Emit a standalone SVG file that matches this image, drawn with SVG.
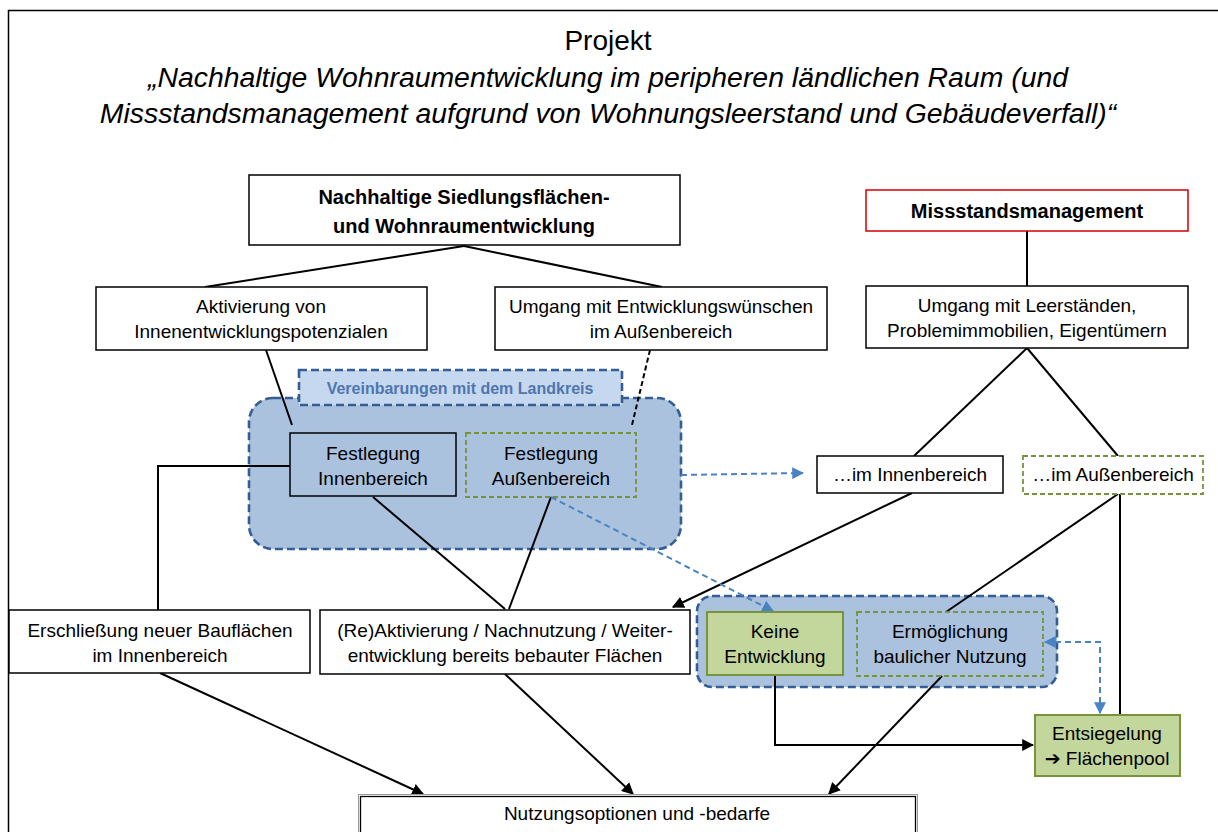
<svg xmlns="http://www.w3.org/2000/svg" width="1218" height="832" viewBox="0 0 1218 832">
<style>
text{font-family:"Liberation Sans",Arial,sans-serif;fill:#000;text-anchor:middle}
.t{font-size:28.4px;font-style:italic}
.b{font-size:20px;font-weight:bold}
.r{font-size:19px}
.box{fill:#fff;stroke:#000;stroke-width:1.5}
.boxn{fill:none;stroke:#000;stroke-width:1.5}
.gd{fill:none;stroke:#77933c;stroke-width:1.8;stroke-dasharray:5 3}
.gf{fill:#c3d69b;stroke:#77933c;stroke-width:2}
.cont{fill:#abc2df;stroke:#355e94;stroke-width:2.6;stroke-dasharray:8 4}
.ln{fill:none;stroke:#000;stroke-width:2}
.bd{fill:none;stroke:#4a83c4;stroke-width:2;stroke-dasharray:6 4}
</style>
<defs>
<marker id="ab" viewBox="0 0 10 10" refX="9" refY="5" markerWidth="6" markerHeight="6" orient="auto" markerUnits="strokeWidth"><path d="M0,0 L10,5 L0,10 Z" fill="#000"/></marker>
<marker id="au" viewBox="0 0 10 10" refX="9" refY="5" markerWidth="6" markerHeight="6" orient="auto" markerUnits="strokeWidth"><path d="M0,0 L10,5 L0,10 Z" fill="#4a83c4"/></marker>
<marker id="aus" viewBox="0 0 10 10" refX="1" refY="5" markerWidth="6" markerHeight="6" orient="auto" markerUnits="strokeWidth"><path d="M10,0 L0,5 L10,10 Z" fill="#4a83c4"/></marker>
</defs>
<rect width="1218" height="832" fill="#fff"/>
<path d="M8.5,832 V10.5 H1218" fill="none" stroke="#000" stroke-width="1.5"/>

<g id="title">
<text x="608" y="50" style="font-size:28px">Projekt</text>
<text class="t" x="608" y="87">„Nachhaltige Wohnraumentwicklung im peripheren ländlichen Raum (und</text>
<text class="t" x="608" y="123">Missstandsmanagement aufgrund von Wohnungsleerstand und Gebäudeverfall)“</text>
</g>

<g id="container1">
<rect class="cont" x="249" y="398" width="432" height="151" rx="24"/>
</g>
<g id="vereinbarungen">
<rect x="299" y="370" width="323" height="35" fill="#c6d8f0" stroke="#355e94" stroke-width="2.6" stroke-dasharray="8 4"/>
<text x="460" y="394" style="font-size:16px;font-weight:bold;fill:#4f76ad">Vereinbarungen mit dem Landkreis</text>
</g>
<g id="container2">
<rect class="cont" x="697" y="596" width="360" height="91" rx="15"/>
</g>

<g id="connectors">
<line class="ln" x1="464" y1="246" x2="205" y2="287"/>
<line class="ln" x1="464" y1="246" x2="662" y2="287"/>
<line class="ln" x1="1027" y1="231" x2="1027" y2="286"/>
<line class="ln" x1="1027" y1="348" x2="914" y2="456"/>
<line class="ln" x1="1027" y1="348" x2="1118" y2="456"/>
<line class="ln" x1="266" y1="350" x2="292" y2="425"/>
<line x1="650" y1="350" x2="632" y2="425" stroke="#000" stroke-width="2" stroke-dasharray="5 3"/>
<path class="ln" d="M290,466 H158 V610"/>
<line class="ln" x1="373" y1="497" x2="505" y2="609"/>
<line class="ln" x1="551" y1="497" x2="509" y2="609"/>
<line class="ln" x1="912" y1="493" x2="673" y2="607" marker-end="url(#ab)"/>
<line class="ln" x1="1118" y1="494" x2="946" y2="612"/>
<line class="ln" x1="1120" y1="494" x2="1120" y2="715"/>
<path class="ln" d="M775,675 V745 H1033" marker-end="url(#ab)"/>
<line class="ln" x1="160" y1="673" x2="423" y2="794" marker-end="url(#ab)"/>
<line class="ln" x1="505" y1="674" x2="633" y2="794" marker-end="url(#ab)"/>
<line class="ln" x1="942" y1="676" x2="829" y2="794" marker-end="url(#ab)"/>
<line class="bd" x1="681" y1="475" x2="803" y2="473" marker-end="url(#au)"/>
<line class="bd" x1="551" y1="497" x2="773" y2="611" marker-end="url(#au)"/>
<path class="bd" d="M1045,642 H1100 V713" marker-start="url(#aus)" marker-end="url(#au)"/>
</g>

<g id="n-nachhaltig">
<rect class="box" x="249" y="175" width="431" height="70"/>
<text class="b" x="464" y="204">Nachhaltige Siedlungsflächen-</text>
<text class="b" x="464" y="233">und Wohnraumentwicklung</text>
</g>
<g id="n-missstand">
<rect x="866" y="190" width="322" height="41" fill="#fff" stroke="#d00000" stroke-width="1.5"/>
<text class="b" x="1027" y="218">Missstandsmanagement</text>
</g>
<g id="n-aktivierung">
<rect class="box" x="96" y="287" width="331" height="63"/>
<text class="r" x="261" y="313">Aktivierung von</text>
<text class="r" x="261" y="338">Innenentwicklungspotenzialen</text>
</g>
<g id="n-umgang-entw">
<rect class="box" x="495" y="287" width="332" height="63"/>
<text class="r" x="661" y="313">Umgang mit Entwicklungswünschen</text>
<text class="r" x="661" y="338">im Außenbereich</text>
</g>
<g id="n-umgang-leer">
<rect class="box" x="866" y="286" width="322" height="62"/>
<text class="r" x="1027" y="312">Umgang mit Leerständen,</text>
<text class="r" x="1027" y="337">Problemimmobilien, Eigentümern</text>
</g>
<g id="n-fest-innen">
<rect class="boxn" x="290" y="433" width="166" height="63"/>
<text class="r" x="373" y="460">Festlegung</text>
<text class="r" x="373" y="485">Innenbereich</text>
</g>
<g id="n-fest-aussen">
<rect class="gd" x="466" y="433" width="170" height="64"/>
<text class="r" x="551" y="460">Festlegung</text>
<text class="r" x="551" y="485">Außenbereich</text>
</g>
<g id="n-im-innen">
<rect class="box" x="817" y="456" width="186" height="37"/>
<text class="r" x="910" y="481">…im Innenbereich</text>
</g>
<g id="n-im-aussen">
<rect x="1023" y="456" width="180" height="38" fill="#fff" stroke="#77933c" stroke-width="1.8" stroke-dasharray="5 3"/>
<text class="r" x="1113" y="481">…im Außenbereich</text>
</g>
<g id="n-erschliessung">
<rect class="box" x="9" y="610" width="301" height="63"/>
<text class="r" x="160" y="637">Erschließung neuer Bauflächen</text>
<text class="r" x="160" y="662">im Innenbereich</text>
</g>
<g id="n-reaktivierung">
<rect class="box" x="320" y="610" width="370" height="64"/>
<text class="r" x="505" y="637">(Re)Aktivierung / Nachnutzung / Weiter-</text>
<text class="r" x="505" y="662">entwicklung bereits bebauter Flächen</text>
</g>
<g id="n-keine">
<rect class="gf" x="707" y="612" width="136" height="63"/>
<text class="r" x="775" y="638">Keine</text>
<text class="r" x="775" y="663">Entwicklung</text>
</g>
<g id="n-ermoeglichung">
<rect class="gd" x="857" y="612" width="186" height="64"/>
<text class="r" x="950" y="638">Ermöglichung</text>
<text class="r" x="950" y="663">baulicher Nutzung</text>
</g>
<g id="n-entsiegelung">
<rect class="gf" x="1035" y="715" width="145" height="61"/>
<text class="r" x="1107" y="740">Entsiegelung</text>
<text class="r" x="1107" y="765"><tspan style="font-family:'DejaVu Sans',sans-serif;font-weight:bold">➔</tspan> Flächenpool</text>
</g>
<g id="n-nutzung">
<rect x="358.5" y="794.5" width="559" height="60" fill="#fff" stroke="#999" stroke-width="1"/>
<rect x="360.5" y="796.5" width="555" height="60" fill="none" stroke="#000" stroke-width="1.3"/>
<text class="r" x="637" y="820">Nutzungsoptionen und -bedarfe</text>
</g>
</svg>
